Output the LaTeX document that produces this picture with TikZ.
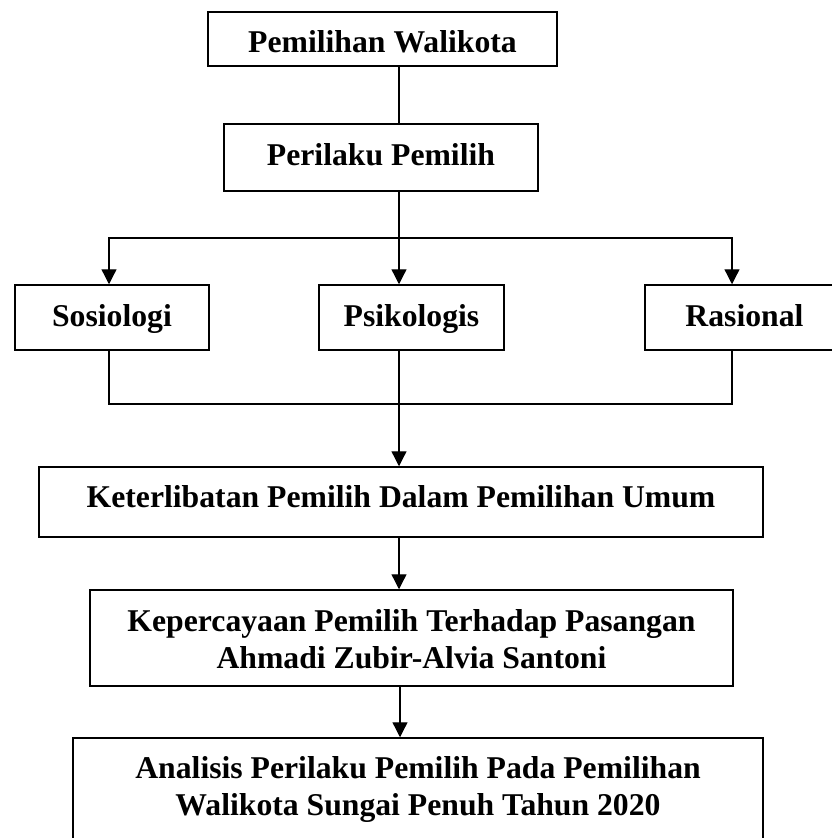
\documentclass[tikz,border=0pt]{standalone}
\usepackage{fontspec}
\setmainfont{Liberation Serif}
\usetikzlibrary{arrows.meta}
\newcommand{\twolines}[3]{\raisebox{0pt}[#1][0pt]{\begin{tabular}[b]{@{}c@{}}#2\\#3\end{tabular}}}
\begin{document}
\begin{tikzpicture}[x=1pt,y=-1pt,
  box/.style={draw=black,line width=1.5pt,rectangle,inner sep=0pt,
    font=\fontsize{31.7}{36.5}\selectfont\bfseries},
  base/.style={text height=#1,text depth=0pt},
  conn/.style={draw=black,line width=1.3pt},
  arr/.style={conn,-{Triangle[width=15pt,length=15pt]}}]
\useasboundingbox (0,0) rectangle (832,838);
\node[box,base=26pt,minimum width=349pt,minimum height=54pt] (b1) at (382.5,39) {Pemilihan Walikota};
\node[box,base=15pt,minimum width=314pt,minimum height=67pt] (b2) at (381,157.5) {Perilaku Pemilih};
\node[box,base=17pt,minimum width=194pt,minimum height=65pt] (sos) at (112,317.5) {Sosiologi};
\node[box,base=17pt,minimum width=185pt,minimum height=65pt] (psi) at (411.5,317.5) {Psikologis};
\node[box,base=17pt,minimum width=199pt,minimum height=65pt] (ras) at (744.5,317.5) {Rasional};
\node[box,base=10pt,minimum width=724pt,minimum height=70pt] (ket) at (401,502) {Keterlibatan Pemilih Dalam Pemilihan Umum};
\node[box,minimum width=643pt,minimum height=96pt] (kep) at (411.5,638) {\twolines{60pt}{Kepercayaan Pemilih Terhadap Pasangan}{Ahmadi Zubir-Alvia Santoni}};
\node[box,minimum width=690pt,minimum height=104pt] (ana) at (418,790) {\twolines{50pt}{Analisis Perilaku Pemilih Pada Pemilihan}{Walikota Sungai Penuh Tahun 2020}};
\coordinate (sp) at (399,0);
\coordinate (sp2) at (400,0);
\coordinate (xs) at (109,0);
\coordinate (xr) at (732,0);
\coordinate (bt) at (0,238);
\coordinate (bb) at (0,404);
\draw[conn] (b1.south -| sp) -- (b2.north -| sp);
\draw[arr] (b2.south -| sp) -- (psi.north -| sp);
\draw[arr] (sp |- bt) -| (sos.north -| xs);
\draw[arr] (sp |- bt) -| (ras.north -| xr);
\draw[conn] (sos.south -| xs) |- (sp |- bb);
\draw[conn] (ras.south -| xr) |- (sp |- bb);
\draw[arr] (psi.south -| sp) -- (ket.north -| sp);
\draw[arr] (ket.south -| sp) -- (kep.north -| sp);
\draw[arr] (kep.south -| sp2) -- (ana.north -| sp2);
\end{tikzpicture}
\end{document}
